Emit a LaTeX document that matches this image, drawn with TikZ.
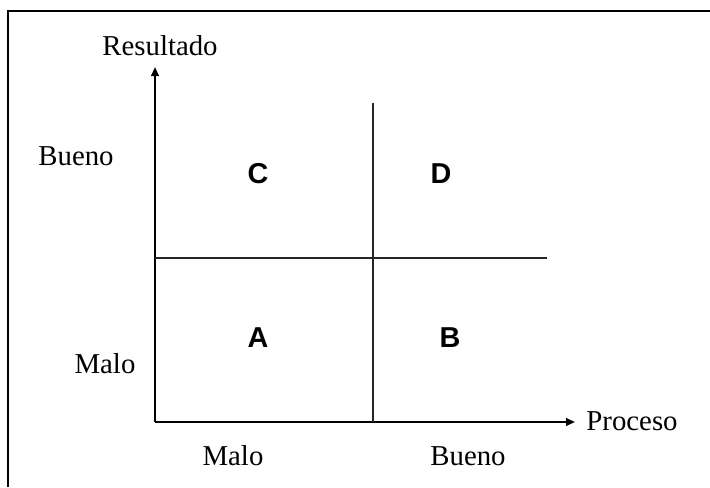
\documentclass[tikz,border=0pt]{standalone}
\usepackage{fontspec}
\setmainfont{Liberation Serif}
\newfontfamily\quadfont{Liberation Sans}
\usetikzlibrary{arrows.meta, positioning}
\tikzset{
    frame line/.style = {
      line width=1pt, black,
    },
    axis/.style = {
      line width=1pt, black, arrows={-Triangle[length=4.5pt, width=3.8pt]},
    },
    divider/.style = {
      line width=0.6pt, black!85!white,
    },
    axis label/.style = {
      anchor=base, inner sep=0, font=\fontsize{14.4}{17}\selectfont,
    },
    quadrant/.style = {
      anchor=base, inner sep=0, font=\fontsize{14.4}{17}\selectfont\quadfont\bfseries,
    },
}

\begin{document}
\begin{tikzpicture}[x=0.5pt, y=-0.5pt]
    \useasboundingbox (0,0) rectangle (710,487);

    %% Open frame round the figure
    \draw [frame line] (8,487) -- (8,11) -- (710,11);

    %% Corner and ends of the axes and of the dividers
    \coordinate (origin) at (155,422);
    \coordinate (ytip) at (155,67);
    \coordinate (xtip) at (575,422);
    \coordinate (vtop) at (373,103);
    \coordinate (vbot) at (373,422);
    \coordinate (hleft) at (155,258);
    \coordinate (hright) at (547,258);

    %% Axes
    \draw [axis] (origin) -- (ytip);
    \draw [axis] (origin) -- (xtip);

    %% Split the plane in four
    \draw [divider] (vtop) -- (vbot);
    \draw [divider] (hleft) -- (hright);

    %% Axis labels
    \node [axis label] (yname) at (160,55) {Resultado};
    \node [axis label] (xname) at (632,430) {Proceso};
    \node [axis label] (yhigh) at (76,165) {Bueno};
    \node [axis label] (ylow) at (105,373) {Malo};
    \node [axis label] (xlow) at (233,465) {Malo};
    \node [axis label] (xhigh) at (468,465) {Bueno};

    %% Quadrant letters
    \node [quadrant] (qc) at (258,183) {C};
    \node [quadrant] (qd) at (441,183) {D};
    \node [quadrant] (qa) at (258,347) {A};
    \node [quadrant] (qb) at (450,347) {B};
\end{tikzpicture}
\end{document}
